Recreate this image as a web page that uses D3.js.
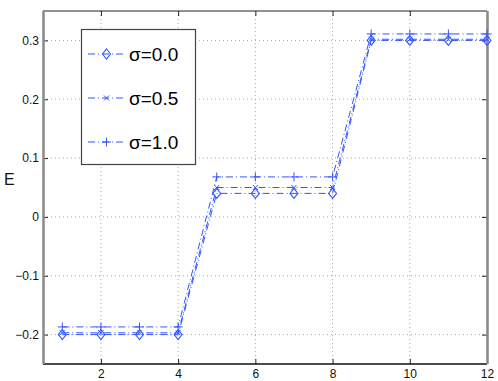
<!DOCTYPE html>
<html><head><meta charset="utf-8">
<script src="https://cdn.jsdelivr.net/npm/d3@7"></script>
<style>body{margin:0;background:#fff}svg{display:block}text{font-family:"Liberation Sans",Arial,sans-serif}</style>
</head><body><svg id="c" width="498" height="381"></svg>
<script>
const xs = [1,2,3,4,5,6,7,8,9,10,11,12];
const sigma00 = [-0.2,-0.2,-0.2,-0.2,0.04,0.04,0.04,0.04,0.30,0.30,0.30,0.30];
const sigma05 = [-0.197,-0.197,-0.197,-0.197,0.05,0.05,0.05,0.05,0.302,0.302,0.302,0.302];
const sigma10 = [-0.187,-0.187,-0.187,-0.187,0.068,0.068,0.068,0.068,0.311,0.311,0.311,0.311];
const seriesNames = ["σ=0.0","σ=0.5","σ=1.0"];
const markers = ["diamond","x","plus"];
const xTicks = [2,4,6,8,10,12];
const yTicks = [-0.2,-0.1,0,0.1,0.2,0.3];

const svg = d3.select("#c");
const L=43,R=487,T=11,B=364;
const x = d3.scaleLinear().domain([0.5,12]).range([L,R]);
const y = d3.scaleLinear().domain([-0.25,0.35]).range([B,T]);
const blue = "#3355ff";

// grid
const g = svg.append("g");
xTicks.forEach(t=>g.append("line").attr("x1",x(t)).attr("x2",x(t)).attr("y1",T).attr("y2",B)
  .attr("stroke","#aaa").attr("stroke-width",1).attr("stroke-dasharray","1,3"));
yTicks.forEach(t=>g.append("line").attr("x1",L).attr("x2",R).attr("y1",y(t)).attr("y2",y(t))
  .attr("stroke","#aaa").attr("stroke-width",1).attr("stroke-dasharray","1,3"));

// axes via d3
const xb = svg.append("g").attr("transform",`translate(0,${B})`)
  .call(d3.axisBottom(x).tickValues(xTicks).tickSizeInner(-5).tickSizeOuter(0).tickPadding(5).tickFormat(d3.format("d")));
const xt = svg.append("g").attr("transform",`translate(0,${T})`)
  .call(d3.axisTop(x).tickValues(xTicks).tickSizeInner(-5).tickSizeOuter(0).tickFormat(""));
const yl = svg.append("g").attr("transform",`translate(${L},0)`)
  .call(d3.axisLeft(y).tickValues(yTicks).tickSizeInner(-5).tickSizeOuter(0).tickPadding(4)
    .tickFormat(d=> d===0?"0":d3.format(".1f")(d).replace("-","\u2212")));
const yr = svg.append("g").attr("transform",`translate(${R},0)`)
  .call(d3.axisRight(y).tickValues(yTicks).tickSizeInner(-5).tickSizeOuter(0).tickFormat(""));
[xb,xt,yl,yr].forEach(a=>{a.select(".domain").remove();a.selectAll("line").attr("stroke","#222");
  a.selectAll("text").attr("font-size",12).attr("fill","#111").attr("font-family","Liberation Sans, Arial, sans-serif");});
// box
svg.append("line").attr("x1",L).attr("x2",R).attr("y1",T).attr("y2",T).attr("stroke","#222");
svg.append("line").attr("x1",L).attr("x2",R).attr("y1",B).attr("y2",B).attr("stroke","#111").attr("stroke-width",1.3);
svg.append("line").attr("x1",L+0.5).attr("x2",L+0.5).attr("y1",T).attr("y2",B).attr("stroke","#888").attr("stroke-width",2.5);
svg.append("line").attr("x1",R+0.5).attr("x2",R+0.5).attr("y1",T).attr("y2",B).attr("stroke","#888").attr("stroke-width",2.5);

// y label
svg.append("text").attr("x",4).attr("y",185).attr("font-size",16).attr("fill","#111").text("E");

function drawMarker(sel,type,cx,cy){
  if(type==="diamond"){
    sel.append("path").attr("d",`M${cx},${cy-5}L${cx+4},${cy}L${cx},${cy+5}L${cx-4},${cy}Z`)
      .attr("fill","none").attr("stroke",blue).attr("stroke-width",1.1);
  } else if(type==="x"){
    sel.append("path").attr("d",`M${cx-2.5},${cy-2.5}L${cx+2.5},${cy+2.5}M${cx-2.5},${cy+2.5}L${cx+2.5},${cy-2.5}`)
      .attr("stroke",blue).attr("stroke-width",1);
  } else {
    sel.append("path").attr("d",`M${cx-4.5},${cy}L${cx+4.5},${cy}M${cx},${cy-4.5}L${cx},${cy+4.5}`)
      .attr("stroke",blue).attr("stroke-width",1);
  }
}

const allSeries = [sigma00,sigma05,sigma10];
const line = d3.line().x((d,i)=>x(xs[i])).y(d=>y(d));
allSeries.forEach((s,k)=>{
  const gg = svg.append("g");
  gg.append("path").datum(s).attr("d",line).attr("fill","none").attr("stroke",blue)
    .attr("stroke-width",1).attr("stroke-dasharray","7,3,1,3");
  s.forEach((v,i)=>drawMarker(gg,markers[k],x(xs[i]),y(v)));
});

// legend
const lg = svg.append("g");
lg.append("rect").attr("x",81.5).attr("y",29.5).attr("width",114).attr("height",135)
  .attr("fill","#fff").attr("stroke","#444").attr("stroke-width",1.2);
const rowsY=[54,98,142];
seriesNames.forEach((n,k)=>{
  lg.append("line").attr("x1",88).attr("x2",125).attr("y1",rowsY[k]).attr("y2",rowsY[k])
    .attr("stroke",blue).attr("stroke-dasharray","7,3,1,3");
  drawMarker(lg,markers[k],106.5,rowsY[k]);
  lg.append("text").attr("x",129).attr("y",rowsY[k]+7).attr("font-size",19).attr("fill","#000").text(n);
});
</script></body></html>
